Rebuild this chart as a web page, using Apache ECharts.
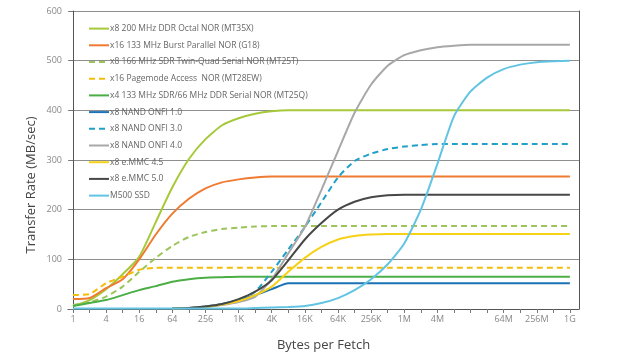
<!DOCTYPE html>
<html><head><meta charset="utf-8">
<script src="https://cdn.jsdelivr.net/npm/echarts@6/dist/echarts.min.js"></script>
<style>html,body{margin:0;padding:0;background:#fff}#c{width:640px;height:358px}</style>
</head><body><div id="c"></div>
<script>
// x position = log2(bytes per fetch)
const exponents = [0,1,2,3,4,5,6,7,8,9,10,11,12,13,14,15,16,17,18,19,20,21,22,23,24,25,26,27,28,29,30];
const tickLabelExps = [0,2,4,6,8,10,12,14,16,18,20,22,26,28,30];
const tickLabels = {0:'1',2:'4',4:'16',6:'64',8:'256',10:'1K',12:'4K',14:'16K',16:'64K',18:'256K',20:'1M',22:'4M',24:'16M',26:'64M',28:'256M',30:'1G'};
const yTicks = [0,100,200,300,400,500,600];

const seriesNames = [
  'x8 200 MHz DDR Octal NOR (MT35X)',
  'x16 133 MHz Burst Parallel NOR (G18)',
  'x8 166 MHz SDR Twin-Quad Serial NOR (MT25T)',
  'x16 Pagemode Access  NOR (MT28EW)',
  'x4 133 MHz SDR/66 MHz DDR Serial NOR (MT25Q)',
  'x8 NAND ONFI 1.0',
  'x8 NAND ONFI 3.0',
  'x8 NAND ONFI 4.0',
  'x8 e.MMC 4.5',
  'x8 e.MMC 5.0',
  'M500 SSD'
];
const mt35x = [6,18,40,70,105,175,245,302,342,370,384,393,398,400,400,400,400,400,400,400,400,400,400,400,400,400,400,400,400,400,400];
const g18   = [20,22,42,60,100,150,192,222,243,255,261,265,267,267,267,267,267,267,267,267,267,267,267,267,267,267,267,267,267,267,267];
const mt25t = [8,14,25,45,75,103,127,145,155,161,164,166,167,167,167,167,167,167,167,167,167,167,167,167,167,167,167,167,167,167,167];
const mt28ew= [28,30,52,65,79,83,83,83,83,83,83,83,83,83,83,83,83,83,83,83,83,83,83,83,83,83,83,83,83,83,83];
const mt25q = [6,12,18,28,38,46,55,60,63,64,65,65,65,65,65,65,65,65,65,65,65,65,65,65,65,65,65,65,65,65,65];
const onfi1 = [null,null,null,null,null,null,1,2,5,10,18,28,40,52,52,52,52,52,52,52,52,52,52,52,52,52,52,52,52,52,52];
const onfi3 = [null,null,null,null,null,null,1,2,4,9,18,35,75,120,165,215,265,298,313,322,327,330,332,332,332,332,332,332,332,332,332];
const onfi4 = [null,null,null,null,null,null,1,2,4,8,14,25,60,112,165,240,318,395,452,490,511,521,527,530,532,532,532,532,532,532,532];
const emmc45= [null,null,null,null,null,null,1,2,4,9,16,28,45,75,103,125,140,147,150,151,151,151,151,151,151,151,151,151,151,151,151];
const emmc50= [null,null,null,null,null,null,1,2,5,10,20,35,58,98,140,173,200,216,225,229,230,230,230,230,230,230,230,230,230,230,230];
const m500  = [1,1,1,1,1,1,1,1,1,1,1,2,3,4,6,12,22,38,60,90,132,200,292,388,438,466,483,492,497,499,500];

const seriesValues = [mt35x,g18,mt25t,mt28ew,mt25q,onfi1,onfi3,onfi4,emmc45,emmc50,m500];
const colors = ['#a6c93a','#ef7b32','#9cc45a','#f5bd0a','#4caf46','#1b72b5','#22a0c8','#a8a8a8','#f6d116','#474747','#62c4e2'];
const dashed = [false,false,true,true,false,false,true,false,false,false,false];

const chart = echarts.init(document.getElementById('c'));
const font = 'Open Sans, sans-serif';
chart.setOption({
  animation:false,
  color: colors,
  grid:{left:68,right:61,top:11,bottom:49},
  legend:{
    orient:'vertical', left:83, top:18, itemWidth:20, itemHeight:14, itemGap:5.5,
    data: seriesNames,
    itemStyle:{opacity:0},
    textStyle:{color:'#666',fontSize:8.5,fontFamily:font,padding:[0,0,0,-4]}
  },
  graphic:[{
    type:'text', x:31, y:185, rotation:Math.PI/2,
    style:{text:'Transfer Rate (MB/sec)', fill:'#444', font:'13px Open Sans, sans-serif', textAlign:'center', textVerticalAlign:'middle'}
  }],
  xAxis:{
    type:'value', min:-0.3, max:30.55,
    name:'Bytes per Fetch', nameLocation:'middle', nameGap:30,
    nameTextStyle:{color:'#444',fontSize:13,fontFamily:font},
    axisLine:{show:true,lineStyle:{color:'#555',width:1}},
    axisTick:{show:true,customValues:exponents,length:4,lineStyle:{color:'#777'}},
    axisLabel:{customValues:tickLabelExps,formatter:v=>tickLabels[v]||'',color:'#888',fontSize:9,fontFamily:font,margin:6},
    splitLine:{show:false}
  },
  yAxis:[{
    type:'value', min:0, max:600, interval:100,
    axisLine:{show:true,lineStyle:{color:'#555',width:1}},
    axisTick:{show:true,length:4,lineStyle:{color:'#777'}},
    axisLabel:{color:'#888',fontSize:9,fontFamily:font,margin:6},
    splitLine:{show:true,lineStyle:{color:'#8f8f8f',width:1}}
  },{
    type:'value', min:0, max:600, interval:100, position:'right',
    axisLine:{show:true,lineStyle:{color:'#555',width:1}},
    axisTick:{show:false}, axisLabel:{show:false}, splitLine:{show:false}
  }],
  series: seriesNames.map((n,i)=>({
    name:n, type:'line', symbol:'none', smooth:0.2,
    data: exponents.map((e,j)=>[e, seriesValues[i][j]]),
    lineStyle:{width:2, color:colors[i], type: dashed[i] ? [6,4] : 'solid'},
    itemStyle:{color:colors[i]},
    connectNulls:false
  }))
});
</script></body></html>
